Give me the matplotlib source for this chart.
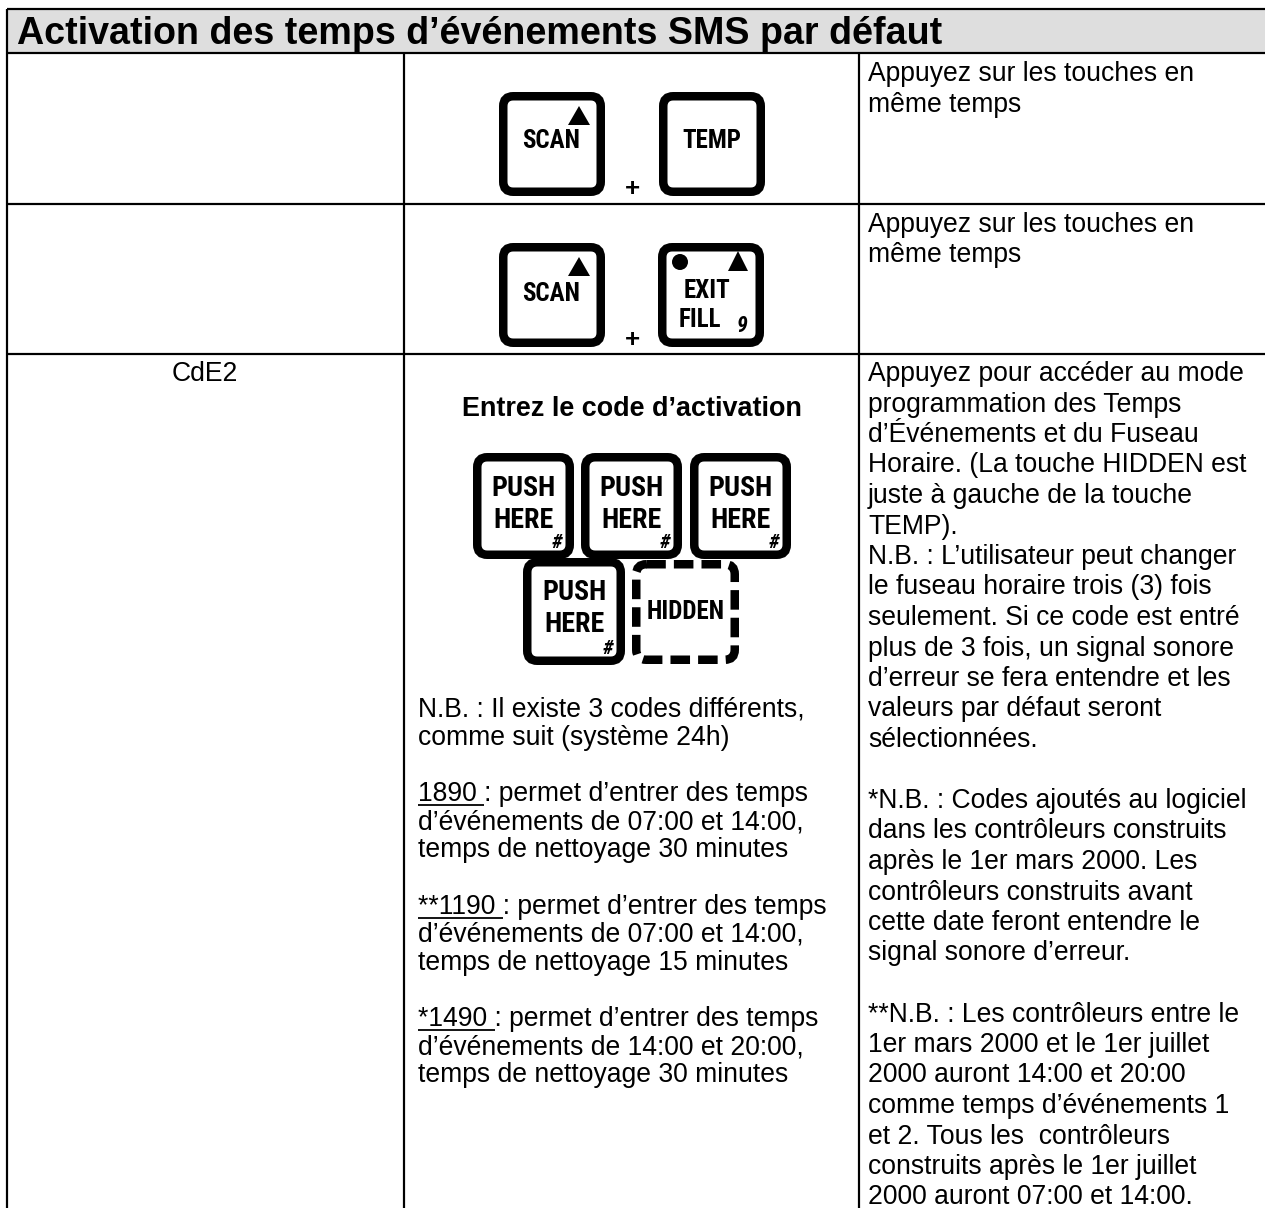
import matplotlib
matplotlib.use("Agg")
import matplotlib.pyplot as plt
from matplotlib.patches import FancyBboxPatch, Rectangle, Polygon, Circle
from matplotlib.font_manager import FontProperties, fontManager

# ---------------- content ----------------
title = "Activation des temps d’événements SMS par défaut"
press_together = ["Appuyez sur les touches en", "même temps"]
row3_label = "CdE2"
entry_heading = "Entrez le code d’activation"
keys_row1 = ["SCAN", "TEMP"]
keys_row2 = ["SCAN", "EXIT\nFILL"]
push_key = "PUSH\nHERE"
hidden_key = "HIDDEN"
codes_lines = [
    "N.B. : Il existe 3 codes différents,",
    "comme suit (système 24h)",
    "",
    "1890 : permet d’entrer des temps",
    "d’événements de 07:00 et 14:00,",
    "temps de nettoyage 30 minutes",
    "",
    "**1190 : permet d’entrer des temps",
    "d’événements de 07:00 et 14:00,",
    "temps de nettoyage 15 minutes",
    "",
    "*1490 : permet d’entrer des temps",
    "d’événements de 14:00 et 20:00,",
    "temps de nettoyage 30 minutes",
]
underlined_prefixes = ["1890 ", "**1190 ", "*1490 "]
notes_lines = [
    "Appuyez pour accéder au mode",
    "programmation des Temps",
    "d’Événements et du Fuseau",
    "Horaire. (La touche HIDDEN est",
    "juste à gauche de la touche",
    "TEMP).",
    "N.B. : L’utilisateur peut changer",
    "le fuseau horaire trois (3) fois",
    "seulement. Si ce code est entré",
    "plus de 3 fois, un signal sonore",
    "d’erreur se fera entendre et les",
    "valeurs par défaut seront",
    "sélectionnées.",
    "",
    "*N.B. : Codes ajoutés au logiciel",
    "dans les contrôleurs construits",
    "après le 1er mars 2000. Les",
    "contrôleurs construits avant",
    "cette date feront entendre le",
    "signal sonore d’erreur.",
    "",
    "**N.B. : Les contrôleurs entre le",
    "1er mars 2000 et le 1er juillet",
    "2000 auront 14:00 et 20:00",
    "comme temps d’événements 1",
    "et 2. Tous les  contrôleurs",
    "construits après le 1er juillet",
    "2000 auront 07:00 et 14:00.",
]

# ---------------- layout ----------------
W, H, DPI = 1265, 1209, 100
PX = 72.0 / DPI  # points per pixel

fig = plt.figure(figsize=(W / DPI, H / DPI), dpi=DPI)
ax = fig.add_axes([0, 0, 1, 1])
ax.set_xlim(0, W)
ax.set_ylim(H, 0)
ax.axis("off")

BODY = ["Liberation Sans", "Arial", "DejaVu Sans"]

# pick a heavy condensed face for the key legends
avail = {}
for f in fontManager.ttflist:
    avail.setdefault(f.name, set()).add(f.weight if isinstance(f.weight, int) else 400)
cond_fam, cond_wt = None, "bold"
for c in ["Roboto Condensed", "Encode Sans Condensed", "Saira Condensed",
          "Barlow Condensed", "Liberation Sans Narrow", "Saira SemiCondensed",
          "Encode Sans Semi Condensed", "Sofia Sans Condensed"]:
    if c in avail:
        cond_fam = c
        ws = [w for w in avail[c] if w >= 700]
        cond_wt = 800 if any(w >= 800 for w in ws) else "bold"
        break
COND = ([cond_fam] if cond_fam else []) + ["Liberation Sans", "DejaVu Sans"]

body_pt = 26.5 * PX
LINE = 30.5

# header band and table rules
ax.add_patch(Rectangle((7, 9), W - 7, 44, facecolor="#dedede", edgecolor="none"))
for (x0, y0, x1, y1) in [(7, 9, W, 9), (7, 53, W, 53), (7, 204, W, 204),
                         (7, 354, W, 354), (7, 9, 7, 1208),
                         (404, 53, 404, 1208), (859, 53, 859, 1208)]:
    ax.plot([x0, x1], [y0, y1], color="black", lw=2.2 * PX, solid_capstyle="butt")

ax.text(17, 44, title, family=BODY, weight="bold", fontsize=37.6 * PX,
        va="baseline", ha="left", color="black")

# column 3 short notes (rows 1 and 2)
for top in (81, 232):
    for i, s in enumerate(press_together):
        ax.text(868, top + i * LINE, s, family=BODY, fontsize=body_pt,
                va="baseline", ha="left")

# keys
def key(x0, y0, x1, y1, dashed=False):
    lw = 8.5
    ins = lw / 2
    ls = (0, (2.3, 0.95)) if dashed else "solid"
    ax.add_patch(FancyBboxPatch((x0 + ins, y0 + ins), x1 - x0 - 2 * ins, y1 - y0 - 2 * ins,
                                boxstyle="round,pad=0,rounding_size=10",
                                lw=lw * PX, ec="black", fc="white", linestyle=ls))

def tri(xl, xr, ytop, ybot):
    ax.add_patch(Polygon([(xl, ybot), (xr, ybot), ((xl + xr) / 2, ytop)],
                         closed=True, fc="black", ec="none"))

def ktext(x, y, s, size, **kw):
    ax.text(x, y, s, family=COND, weight=cond_wt,
            fontsize=size * PX, ha="center", va="center", **kw)

# row 1
key(499, 92, 605, 196)
key(659, 92, 765, 196)
tri(568, 590, 106, 125)
ktext(551, 141, keys_row1[0], 25)
ktext(712, 141, keys_row1[1], 25)
ax.text(632, 189, "+", family=BODY, weight="bold", fontsize=26 * PX, ha="center", va="center")

# row 2
key(499, 243, 605, 347)
key(658, 243, 764, 347)
tri(568, 590, 257, 276)
tri(728, 748, 251, 271)
ax.add_patch(Circle((680, 262), 8, fc="black", ec="none"))
ktext(551, 294, keys_row2[0], 25)
l1, l2 = keys_row2[1].split("\n")
ktext(707, 291, l1, 25)
ktext(700, 320, l2, 25)
ax.text(742, 326, "9", family=COND, weight=cond_wt, style="italic", fontsize=22 * PX,
        ha="center", va="center")
ax.text(632, 340, "+", family=BODY, weight="bold", fontsize=26 * PX, ha="center", va="center")

# row 3
ax.text(205, 381, row3_label, family=BODY, fontsize=body_pt, ha="center", va="baseline")
ax.text(632, 416, entry_heading, family=BODY, weight="bold", fontsize=27 * PX,
        ha="center", va="baseline")

push_boxes = [(473, 453, 574, 559), (581, 453, 682, 559), (690, 453, 791, 559),
              (523, 558, 625, 665)]
p1, p2 = push_key.split("\n")
for (x0, y0, x1, y1) in push_boxes:
    key(x0, y0, x1, y1)
    cx = (x0 + x1) / 2
    ktext(cx, y0 + 35, p1, 28)
    ktext(cx, y0 + 67, p2, 28)
    ax.text(x1 - 17, y1 - 17, "#", family=COND, weight=cond_wt, style="italic",
            fontsize=21 * PX, ha="center", va="center")
key(632, 560, 739, 664, dashed=True)
ktext(685.5, 612, hidden_key, 25)

# column 2 text
renderer = fig.canvas.get_renderer()
fp = FontProperties(family=BODY, size=body_pt)

def text_w(s):
    w1 = renderer.get_text_width_height_descent(s + "x", fp, ismath=False)[0]
    w2 = renderer.get_text_width_height_descent("x", fp, ismath=False)[0]
    return w1 - w2

c2_first = 381 + 11 * LINE
c2_last = 381 + 23 * LINE
c2_step = (c2_last - c2_first) / (len(codes_lines) - 1)
for i, s in enumerate(codes_lines):
    if not s:
        continue
    y = c2_first + i * c2_step
    ax.text(418, y, s, fontproperties=fp, ha="left", va="baseline")
    for pre in underlined_prefixes:
        if s.startswith(pre):
            w = text_w(pre)
            ax.plot([418, 418 + w], [y + 4, y + 4], color="black", lw=1.8 * PX,
                    solid_capstyle="butt")
            break

# column 3 long notes
for i, s in enumerate(notes_lines):
    if s:
        ax.text(868, 381 + i * LINE, s, fontproperties=fp, ha="left", va="baseline")

fig.savefig("out.png", dpi=DPI)
